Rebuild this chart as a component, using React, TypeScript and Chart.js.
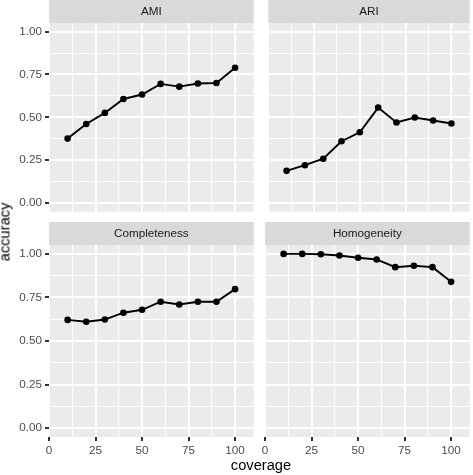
import React, { useEffect, useRef } from 'react';
import { Chart, registerables } from 'chart.js';

Chart.register(...registerables);

// ---------- data ----------
const coverage = [10, 20, 30, 40, 50, 60, 70, 80, 90, 100];
const ami = [0.376, 0.461, 0.526, 0.607, 0.633, 0.695, 0.679, 0.697, 0.7, 0.789];
const ari = [0.188, 0.221, 0.259, 0.361, 0.413, 0.557, 0.47, 0.499, 0.482, 0.464];
const completeness = [0.621, 0.61, 0.623, 0.662, 0.679, 0.725, 0.709, 0.725, 0.725, 0.797];
const homogeneity = [0.999, 0.999, 0.997, 0.99, 0.977, 0.967, 0.923, 0.931, 0.923, 0.839];
const facetNames = ['AMI', 'ARI', 'Completeness', 'Homogeneity'];
const xMajorTicks = [0, 25, 50, 75, 100];
const xMinorTicks = [12.5, 37.5, 62.5, 87.5];
const yMajorTicks = [0, 0.25, 0.5, 0.75, 1];
const yMinorTicks = [0.125, 0.375, 0.625, 0.875];
const xTitle = 'coverage';
const yTitle = 'accuracy';

// ---------- style ----------
const FONT = '"Liberation Sans", Arial, Helvetica, sans-serif';
const STRIP = 23;
const PANEL_H = 192;
const X_AXIS_H = 22;
const Y_AXIS_W = 49;

Chart.defaults.font.family = FONT;

type PanelProps = {
  title: string;
  values: number[];
  showX: boolean;
  showY: boolean;
  left: number;
  top: number;
  width: number;
  height: number;
  padLeft: number;
};

function isIn(list: number[], v: any) {
  return typeof v === 'number' && list.some((m) => Math.abs(m - v) < 1e-9);
}

function Panel(p: PanelProps) {
  const ref = useRef<HTMLCanvasElement>(null);
  useEffect(() => {
    if (!ref.current) return;
    const facetPlugin = {
      id: 'facetStrip',
      beforeDraw(chart: any) {
        const { ctx, chartArea: a } = chart;
        ctx.save();
        ctx.fillStyle = '#EBEBEB';
        ctx.fillRect(a.left, a.top, a.right - a.left, a.bottom - a.top);
        ctx.fillStyle = '#D9D9D9';
        ctx.fillRect(a.left, a.top - STRIP, a.right - a.left, STRIP);
        ctx.fillStyle = '#1A1A1A';
        ctx.font = `11.7px ${FONT}`;
        ctx.textAlign = 'center';
        ctx.textBaseline = 'middle';
        ctx.fillText(p.title, (a.left + a.right) / 2, a.top - STRIP / 2 + 0.5);
        ctx.restore();
      },
    };
    const xAll = [...xMajorTicks, ...xMinorTicks].sort((a, b) => a - b);
    const yAll = [...yMajorTicks, ...yMinorTicks].sort((a, b) => a - b);
    const chart = new Chart(ref.current, {
      type: 'line',
      data: {
        datasets: [
          {
            data: coverage.map((x, i) => ({ x, y: p.values[i] })),
            borderColor: '#000000',
            backgroundColor: '#000000',
            borderWidth: 1.9,
            pointRadius: 3.3,
            pointHoverRadius: 3.3,
            pointBackgroundColor: '#000000',
            pointBorderWidth: 0,
            tension: 0,
            fill: false,
          },
        ],
      },
      options: {
        responsive: false,
        animation: false,
        events: [],
        layout: { padding: { top: STRIP, left: p.padLeft, right: 0, bottom: 0 } },
        plugins: { legend: { display: false }, tooltip: { enabled: false } },
        scales: {
          x: {
            type: 'linear',
            min: 0,
            max: 110,
            afterBuildTicks: (s: any) => {
              s.ticks = xAll.map((v) => ({ value: v }));
            },
            afterFit: (s: any) => {
              s.height = p.showX ? X_AXIS_H : 0;
              s.paddingLeft = 0;
              s.paddingRight = 0;
              s.paddingTop = 0;
              s.paddingBottom = 0;
            },
            border: { display: false },
            grid: {
              color: '#FFFFFF',
              lineWidth: (c: any) => (isIn(xMajorTicks, c.tick?.value) ? 2 : 1),
              drawTicks: p.showX,
              tickLength: 4,
              tickWidth: 2,
              tickColor: (c: any) => (isIn(xMajorTicks, c.tick?.value) ? '#333333' : 'rgba(0,0,0,0)'),
            },
            ticks: {
              display: p.showX,
              autoSkip: false,
              maxRotation: 0,
              minRotation: 0,
              padding: 3,
              color: '#4D4D4D',
              font: { size: 11.7, family: FONT },
              callback: (v: any) => (isIn(xMajorTicks, v) ? String(v) : ''),
            },
          },
          y: {
            type: 'linear',
            position: 'left',
            min: -0.05,
            max: 1.05,
            afterBuildTicks: (s: any) => {
              s.ticks = yAll.map((v) => ({ value: v }));
            },
            afterFit: (s: any) => {
              s.width = p.showY ? Y_AXIS_W : 0;
              s.paddingLeft = 0;
              s.paddingRight = 0;
              s.paddingTop = 0;
              s.paddingBottom = 0;
            },
            border: { display: false },
            grid: {
              color: '#FFFFFF',
              lineWidth: (c: any) => (isIn(yMajorTicks, c.tick?.value) ? 2 : 1),
              drawTicks: p.showY,
              tickLength: 4,
              tickWidth: 2,
              tickColor: (c: any) => (isIn(yMajorTicks, c.tick?.value) ? '#333333' : 'rgba(0,0,0,0)'),
            },
            ticks: {
              display: p.showY,
              autoSkip: false,
              padding: 3,
              color: '#4D4D4D',
              font: { size: 11.7, family: FONT },
              callback: (v: any) => (isIn(yMajorTicks, v) ? Number(v).toFixed(2) : ''),
            },
          },
        },
      },
      plugins: [facetPlugin],
    } as any);
    return () => chart.destroy();
  }, []);
  return (
    <canvas
      ref={ref}
      width={p.width}
      height={p.height}
      style={{ position: 'absolute', left: p.left, top: p.top, width: p.width, height: p.height }}
    />
  );
}

export default function App() {
  const topH = STRIP + PANEL_H;
  const botH = STRIP + PANEL_H + X_AXIS_H;
  return (
    <div
      style={{
        position: 'absolute',
        left: 0,
        top: 0,
        width: 473,
        height: 475,
        background: '#FFFFFF',
        overflow: 'hidden',
        fontFamily: FONT,
      }}
    >
      <Panel title={facetNames[0]} values={ami} showX={false} showY={true} left={0} top={0} width={257} height={topH} padLeft={0} />
      <Panel title={facetNames[1]} values={ari} showX={false} showY={false} left={265} top={0} width={208} height={topH} padLeft={0} />
      <Panel title={facetNames[2]} values={completeness} showX={true} showY={true} left={0} top={222} width={257} height={botH} padLeft={0} />
      <Panel title={facetNames[3]} values={homogeneity} showX={true} showY={false} left={258} top={222} width={215} height={botH} padLeft={7} />
      <div
        style={{
          position: 'absolute',
          left: 261,
          top: 465,
          transform: 'translate(-50%, -50%)',
          fontSize: '14.7px',
          lineHeight: '17px',
          color: '#000000',
          whiteSpace: 'nowrap',
        }}
      >
        {xTitle}
      </div>
      <div
        style={{
          position: 'absolute',
          left: 4.5,
          top: 232,
          transform: 'translate(-50%, -50%) rotate(-90deg)',
          fontSize: '14.7px',
          lineHeight: '17px',
          color: '#000000',
          whiteSpace: 'nowrap',
        }}
      >
        {yTitle}
      </div>
    </div>
  );
}
